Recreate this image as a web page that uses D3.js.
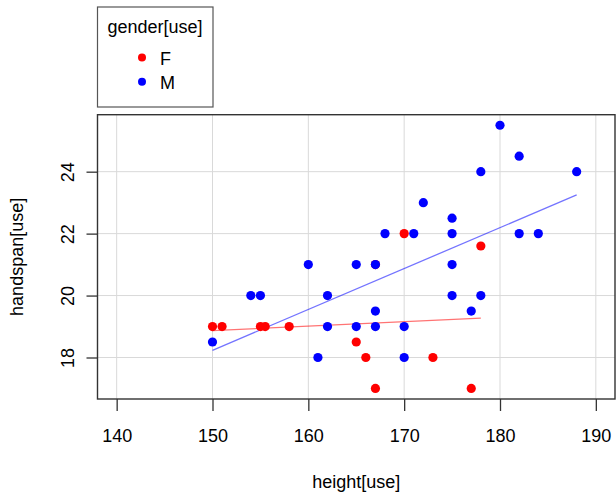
<!DOCTYPE html>
<html>
<head>
<meta charset="utf-8">
<script src="https://cdn.jsdelivr.net/npm/d3@7"></script>
<style>
  body { margin: 0; background: #fff; }
  text { font-family: "Liberation Sans", Arial, sans-serif; fill: #000; }
  .axis path { display: none; }
  .axis line { stroke: #333; }
  .axis text { font-size: 18px; }
</style>
</head>
<body>
<div id="chart-container"></div>
<script>
// data
let genders = ["F", "M"],
    heightF = [150, 151, 155, 155.5, 158, 165, 166, 167, 167, 170, 173, 177, 178],
    handspanF = [19, 19, 19, 19, 19, 18.5, 18, 17, 21, 22, 18, 17, 21.6],
    heightM = [150, 154, 155, 160, 161, 162, 162, 165, 165, 167, 167, 167, 168, 170, 170, 171, 172,
               175, 175, 175, 175, 177, 178, 178, 180, 182, 182, 184, 188],
    handspanM = [18.5, 20, 20, 21, 18, 20, 19, 21, 19, 21, 19.5, 19, 22, 19, 18, 22, 23,
                 22.5, 22, 21, 20, 19.5, 24, 20, 25.5, 24.5, 22, 22, 24],
    fitXF = [150, 178], fitYF = [18.87, 19.27],
    fitXM = [150, 188], fitYM = [18.23, 23.25],
    xTicks = [140, 150, 160, 170, 180, 190],
    yTicks = [18, 20, 22, 24];

let width = 616, height = 494,
    svg = d3.select("#chart-container").append("svg").attr("width", width).attr("height", height),
    plot = { left: 97.5, right: 615, top: 114.7, bottom: 399 },
    colors = { F: "#ff0000", M: "#0000ff" };

let x = d3.scaleLinear().domain([138, 192]).range([plot.left, plot.right]),
    y = d3.scaleLinear().domain([16.66, 25.84]).range([plot.bottom, plot.top]);

// grid
svg.append("g").selectAll("line").data(xTicks).join("line")
    .attr("x1", d => x(d)).attr("x2", d => x(d))
    .attr("y1", plot.top).attr("y2", plot.bottom)
    .attr("stroke", "#d9d9d9").attr("stroke-width", 1);
svg.append("g").selectAll("line").data(yTicks).join("line")
    .attr("y1", d => y(d)).attr("y2", d => y(d))
    .attr("x1", plot.left).attr("x2", plot.right)
    .attr("stroke", "#d9d9d9").attr("stroke-width", 1);

// axes
let xAxis = svg.append("g")
    .attr("class", "axis")
    .attr("transform", `translate(0,${plot.bottom})`)
    .call(d3.axisBottom(x).tickValues(xTicks).tickSize(12).tickPadding(18).tickFormat(d3.format("d")));
xAxis.selectAll(".tick line").attr("stroke-width", 1.3);

let yAxis = svg.append("g")
    .attr("class", "axis")
    .attr("transform", `translate(${plot.left},0)`)
    .call(d3.axisLeft(y).tickValues(yTicks).tickSize(11).tickFormat(d3.format("d")));
yAxis.selectAll(".tick line").attr("stroke-width", 1.3);
yAxis.selectAll(".tick text")
    .attr("x", null).attr("dy", null)
    .attr("text-anchor", "middle")
    .attr("transform", "translate(-24,0) rotate(-90)");

svg.append("text")
    .attr("x", (plot.left + plot.right) / 2)
    .attr("y", 488)
    .attr("text-anchor", "middle")
    .style("font-size", "18px")
    .text("height[use]");

svg.append("text")
    .attr("transform", `translate(23,${(plot.top + plot.bottom) / 2}) rotate(-90)`)
    .attr("text-anchor", "middle")
    .style("font-size", "18px")
    .text("handspan[use]");

// fit lines
let fitLine = d3.line().x(d => x(d[0])).y(d => y(d[1]));
svg.append("path")
    .datum(d3.zip(fitXF, fitYF))
    .attr("fill", "none").attr("stroke", colors.F).attr("stroke-opacity", 0.55).attr("stroke-width", 1.3)
    .attr("d", fitLine);
svg.append("path")
    .datum(d3.zip(fitXM, fitYM))
    .attr("fill", "none").attr("stroke", colors.M).attr("stroke-opacity", 0.55).attr("stroke-width", 1.3)
    .attr("d", fitLine);

// points
svg.append("g").selectAll("circle").data(d3.zip(heightF, handspanF)).join("circle")
    .attr("cx", d => x(d[0])).attr("cy", d => y(d[1])).attr("r", 4.6)
    .attr("fill", colors.F);
svg.append("g").selectAll("circle").data(d3.zip(heightM, handspanM)).join("circle")
    .attr("cx", d => x(d[0])).attr("cy", d => y(d[1])).attr("r", 4.6)
    .attr("fill", colors.M);

// frame
svg.append("rect")
    .attr("x", plot.left).attr("y", plot.top)
    .attr("width", plot.right - plot.left).attr("height", plot.bottom - plot.top)
    .attr("fill", "none").attr("stroke", "#333").attr("stroke-width", 1.4);

// legend
let legend = svg.append("g");
legend.append("rect")
    .attr("x", 97.5).attr("y", 7).attr("width", 115.5).attr("height", 100)
    .attr("fill", "none").attr("stroke", "#555").attr("stroke-width", 1.2);
legend.append("text")
    .attr("x", 155).attr("y", 33)
    .attr("text-anchor", "middle")
    .style("font-size", "18px")
    .text("gender[use]");
let entries = legend.selectAll("g.entry").data(genders).join("g")
    .attr("class", "entry")
    .attr("transform", (d, i) => `translate(0,${57.5 + i * 24.3})`);
entries.append("circle").attr("cx", 142).attr("cy", 0).attr("r", 4).attr("fill", d => colors[d]);
entries.append("text").attr("x", 160).attr("y", 7).style("font-size", "18px").text(d => d);
</script>
</body>
</html>
